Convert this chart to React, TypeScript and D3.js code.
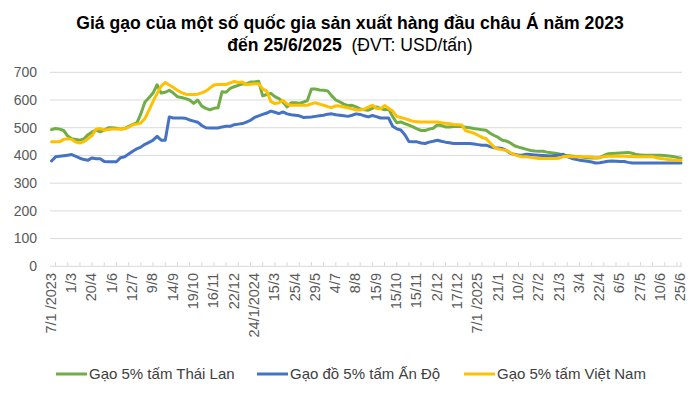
import React from "react";
import * as d3 from "d3";

const xLabels = [
  "7/1 /2023", "1/3", "20/4", "1/6", "12/7", "9/8", "14/9", "19/10", "16/11", "22/12",
  "24/1/2024", "15/3", "25/4", "29/5", "4/7", "8/8", "15/9", "15/10", "15/11", "2/12",
  "17/12", "7/1 /2025", "21/1", "10/2", "27/2", "21/3", "3/4", "22/4", "6/5", "27/5",
  "10/6", "25/6",
];

const thaiLan = [
  493, 497, 495, 490, 470, 460, 458, 455, 460, 475,
  485, 491, 485, 492, 500, 500, 498, 495, 497, 505,
  512, 517, 550, 593, 608, 625, 655, 625, 628, 635,
  625, 612, 609, 605, 600, 588, 600, 578, 570, 565,
  570, 572, 630, 628, 642, 648, 653, 658, 658, 665,
  665, 668, 615, 620, 624, 612, 605, 593, 575, 590,
  590, 588, 592, 598, 640, 640, 636, 635, 633, 615,
  600, 593, 585, 580, 581, 575, 568, 565, 563, 570,
  575, 570, 565, 568, 540, 518, 521, 515, 509, 503,
  496, 490, 490, 495, 498, 510, 508, 503, 503, 504,
  505, 504, 502, 500, 497, 495, 493, 491, 480, 472,
  465, 455, 452, 445, 435, 430, 426, 422, 418, 416,
  415, 415, 412, 410, 408, 405, 401, 400, 398, 396,
  395, 393, 392, 391, 391, 392, 400, 406, 407, 408,
  409, 410, 411, 408, 403, 402, 401, 401, 401, 401,
  401, 400, 398, 396, 393, 390,
];

const anDo = [
  380, 395, 397, 399, 401, 403, 397, 390, 385, 383,
  391, 388, 388, 378, 377, 377, 377, 392, 395, 405,
  415, 424, 430, 440, 447, 455, 469, 455, 455, 539,
  535, 535, 535, 534, 528, 524, 520, 508, 500, 499,
  499, 499, 503, 505, 505, 511, 513, 515, 520, 527,
  537, 543, 548, 553, 560, 556, 551, 557, 550, 547,
  545, 543, 537, 538, 539, 541, 543, 545, 549, 550,
  547, 545, 543, 541, 545, 550, 548, 543, 539, 544,
  540, 535, 535, 535, 505, 496, 492, 475, 450, 449,
  449, 445, 443, 448, 451, 455, 451, 448, 446, 443,
  443, 443, 443, 443, 441, 439, 437, 437, 432, 428,
  427, 425, 418, 408, 404, 401, 402, 404, 403, 402,
  401, 400, 399, 398, 400, 402, 404, 396, 390, 386,
  383, 381, 379, 376, 373, 374, 376, 379, 380, 379,
  378, 378, 375, 373, 373, 373, 373, 373, 373, 373,
  373, 373, 373, 373, 373, 373,
];

const vietNam = [
  449, 449, 449, 458, 460, 458, 448, 445, 450, 461,
  472, 495, 497, 491, 494, 495, 495, 495, 496, 502,
  511, 513, 517, 533, 563, 595, 623, 650, 663, 654,
  645, 635, 627, 621, 620, 620, 621, 626, 632, 643,
  654, 656, 656, 656, 662, 667, 663, 665, 655, 657,
  659, 659, 640, 632, 595, 587, 590, 599, 585, 581,
  581, 581, 581, 581, 586, 590, 585, 581, 576, 573,
  579, 578, 575, 572, 568, 564, 564, 567, 574, 581,
  570, 568, 580, 570, 560, 541, 537, 533, 528, 523,
  522, 521, 521, 521, 521, 521, 518, 516, 514, 512,
  511, 510, 489, 485, 480, 473, 465, 461, 445, 430,
  423, 421, 418, 410, 403, 398, 395, 395, 393, 391,
  389, 389, 389, 389, 389, 390, 396, 397, 395, 395,
  395, 395, 395, 394, 392, 393, 395, 397, 397, 397,
  397, 397, 396, 396, 395, 395, 395, 395, 395, 392,
  389, 387, 385, 384, 383, 383,
];

const seriesNames = ["Gạo 5% tấm Thái Lan", "Gạo đồ 5% tấm Ấn Độ", "Gạo 5% tấm Việt Nam"];
const seriesColors = ["#70AD47", "#4472C4", "#FFC000"];
const yTicks = [0, 100, 200, 300, 400, 500, 600, 700];
const labelEvery = 5;
const tickEvery = 3;

export default function App() {
  const W = 700;
  const H = 399;
  const series = [thaiLan, anDo, vietNam];
  const n = thaiLan.length;
  const idx = d3.range(n);
  const x = d3.scalePoint<number>().domain(idx).range([51.5, 681]);
  const y = d3.scaleLinear().domain([0, 700]).range([266.3, 72.3]);
  const line = d3
    .line<number>()
    .x((_, i) => x(i) as number)
    .y((d) => y(d));
  const font = "'Liberation Sans', Arial, sans-serif";
  const tickIdx = idx.filter((i) => i % tickEvery === 1).concat([n - 1]);
  const legendX = [56, 257, 464];

  return (
    <svg width={W} height={H} style={{ position: "absolute", left: 0, top: 0, background: "#fff" }} fontFamily={font}>
      <text x={350} y={29} textAnchor="middle" fontSize={17.6} fontWeight="bold" fill="#000">
        Giá gạo của một số quốc gia sản xuất hàng đầu châu Á năm 2023
      </text>
      <text x={350} y={51} textAnchor="middle" fontSize={17.6} fill="#000">
        <tspan fontWeight="bold">đến 25/6/2025</tspan>
        <tspan>{"\u00a0\u00a0(ĐVT: USD/tấn)"}</tspan>
      </text>
      {yTicks.map((t) => (
        <g key={t}>
          <line x1={50} x2={682} y1={y(t)} y2={y(t)} stroke="#d9d9d9" strokeWidth={1} />
          <text x={37} y={y(t)} dy="0.35em" textAnchor="end" fontSize={14} fill="#595959">
            {t}
          </text>
        </g>
      ))}
      {tickIdx.map((i) => (
        <line key={"t" + i} x1={x(i)} x2={x(i)} y1={262} y2={266.3} stroke="#d9d9d9" strokeWidth={1} />
      ))}
      {xLabels.map((lab, k) => {
        const xi = x(k * labelEvery) as number;
        return (
          <text
            key={lab + k}
            transform={`translate(${xi},273) rotate(-90)`}
            dy="0.3em"
            textAnchor="end"
            fontSize={14.5}
            fill="#595959"
          >
            {lab}
          </text>
        );
      })}
      {series.map((s, k) => (
        <path key={k} d={line(s) ?? ""} fill="none" stroke={seriesColors[k]} strokeWidth={3} strokeLinejoin="round" strokeLinecap="round" />
      ))}
      {seriesNames.map((name, k) => (
        <g key={name}>
          <line x1={legendX[k]} x2={legendX[k] + 31} y1={374} y2={374} stroke={seriesColors[k]} strokeWidth={3} />
          <text x={legendX[k] + 33} y={374} dy="0.35em" fontSize={15} fill="#404040">
            {name}
          </text>
        </g>
      ))}
    </svg>
  );
}
